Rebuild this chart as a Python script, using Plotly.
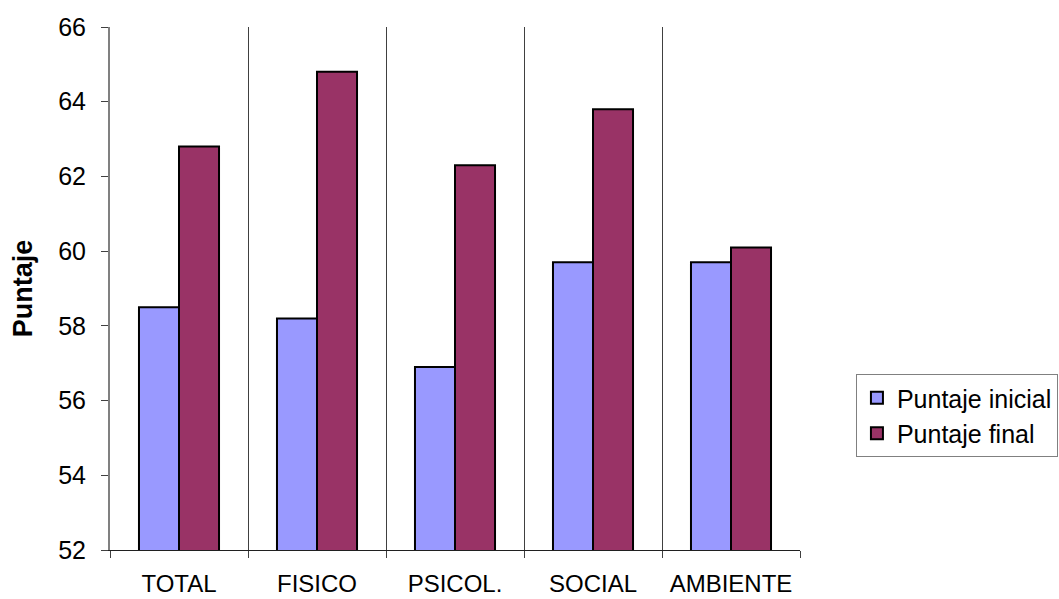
import plotly.graph_objects as go

categories = ["TOTAL", "FISICO", "PSICOL.", "SOCIAL", "AMBIENTE"]
inicial = [58.5, 58.2, 56.9, 59.7, 59.7]
final = [62.8, 64.8, 62.3, 63.8, 60.1]
y_ticks = [52, 54, 56, 58, 60, 62, 64, 66]

fig = go.Figure()
fig.add_trace(go.Bar(x=categories, y=inicial, name="Puntaje inicial",
                     marker=dict(color="#9999FF", line=dict(color="black", width=2))))
fig.add_trace(go.Bar(x=categories, y=final, name="Puntaje final",
                     marker=dict(color="#993366", line=dict(color="black", width=2))))

fig.update_layout(
    width=1059, height=599,
    margin=dict(l=110, r=259, t=27, b=49),
    paper_bgcolor="white", plot_bgcolor="white",
    barmode="group", bargap=0.42, bargroupgap=0,
    font=dict(family="Liberation Sans, Arial", size=25, color="black"),
    showlegend=True,
    legend=dict(xref="container", x=0.999, y=0.3365, xanchor="right", yanchor="top",
                bordercolor="#808080", borderwidth=1, bgcolor="white",
                font=dict(size=25), tracegroupgap=0, itemwidth=30),
)
fig.update_xaxes(
    type="category", tickson="boundaries", ticks="outside", ticklen=7,
    tickcolor="#404040", showgrid=True, gridcolor="#404040", gridwidth=1,
    showline=True, linecolor="#202020", linewidth=1, automargin=False,
    tickfont=dict(size=24), ticklabelstandoff=12, tickangle=0,
)
fig.update_yaxes(
    range=[52, 66], tickvals=y_ticks, ticks="outside", ticklen=7,
    tickcolor="#404040", showgrid=False, zeroline=False, automargin=False,
    showline=True, linecolor="#808080", linewidth=2,
    title=dict(text="<b>Puntaje</b>", font=dict(size=27), standoff=18),
    tickfont=dict(size=25), ticklabelstandoff=10,
)

fig.write_html("out.html")
